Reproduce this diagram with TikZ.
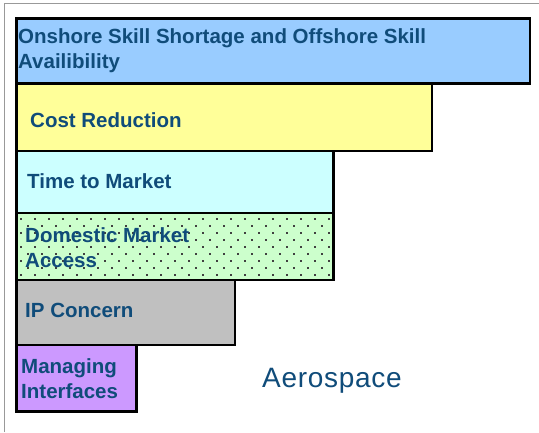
\documentclass[tikz,border=0pt]{standalone}
\usepackage{fontspec}
\setmainfont{Liberation Sans}
\definecolor{txt}{RGB}{16,76,122}
\definecolor{cblue}{RGB}{153,204,255}
\definecolor{cyellow}{RGB}{255,255,153}
\definecolor{ccyan}{RGB}{204,255,255}
\definecolor{cgreen}{RGB}{204,255,204}
\definecolor{cgray}{RGB}{192,192,192}
\definecolor{cpurple}{RGB}{204,153,255}
\tikzset{
  bar/.style={draw=black,line width=2.6pt},
  lbl/.style={anchor=base west,inner sep=0pt,text=txt,font=\fontsize{20.5}{24.5}\selectfont\bfseries,align=left},
  frameline/.style={draw=gray!80,line width=1pt}
}
\begin{document}
\begin{tikzpicture}[x=1pt,y=-1pt]
\useasboundingbox (0,0) rectangle (539,432);
\fill[white] (0,0) rectangle (539,432);
\draw[frameline] (4,432) -- (4,3) -- (539,3);
% bars
\draw[bar,fill=cblue] (16.5,18.5) rectangle (530,83.5);
\draw[bar,fill=cyellow] (16.5,83.5) rectangle (432,151);
\draw[bar,fill=ccyan] (16.5,151) rectangle (333.5,213);
\fill[cgreen] (16.5,213) rectangle (333.5,280);
\begin{scope}
\clip (16.5,213) rectangle (333.5,280);
\foreach \r in {0,...,8} {
  \foreach \c in {0,...,23} {
    \pgfmathsetmacro{\xx}{21.3+14*\c+mod(\r,2)*7}
    \pgfmathsetmacro{\yy}{219+7*\r}
    \fill[black!75] (\xx-0.9,\yy-0.9) rectangle (\xx+0.9,\yy+0.9);
  }
}
\end{scope}
\draw[bar] (16.5,213) rectangle (333.5,280);
\draw[bar,fill=cgray] (16.5,280) rectangle (235,345);
\draw[bar,fill=cpurple] (16.5,345) rectangle (136.5,411.5);
% labels
\node[lbl] (t1) at (18,68) {Onshore Skill Shortage and Offshore Skill\\Availibility};
\node[lbl] (t2) at (30,127) {Cost Reduction};
\node[lbl] (t3) at (27,188) {Time to Market};
\node[lbl] (t4) at (25,267) {Domestic Market\\Access};
\node[lbl] (t5) at (25,317) {IP Concern};
\node[lbl] (t6) at (21,398) {Managing\\Interfaces};
\node[anchor=base west,inner sep=0pt,text=txt,font=\fontsize{28}{30}\selectfont\addfontfeature{LetterSpace=2.5}] (aero) at (262,387) {Aerospace};
\end{tikzpicture}
\end{document}
